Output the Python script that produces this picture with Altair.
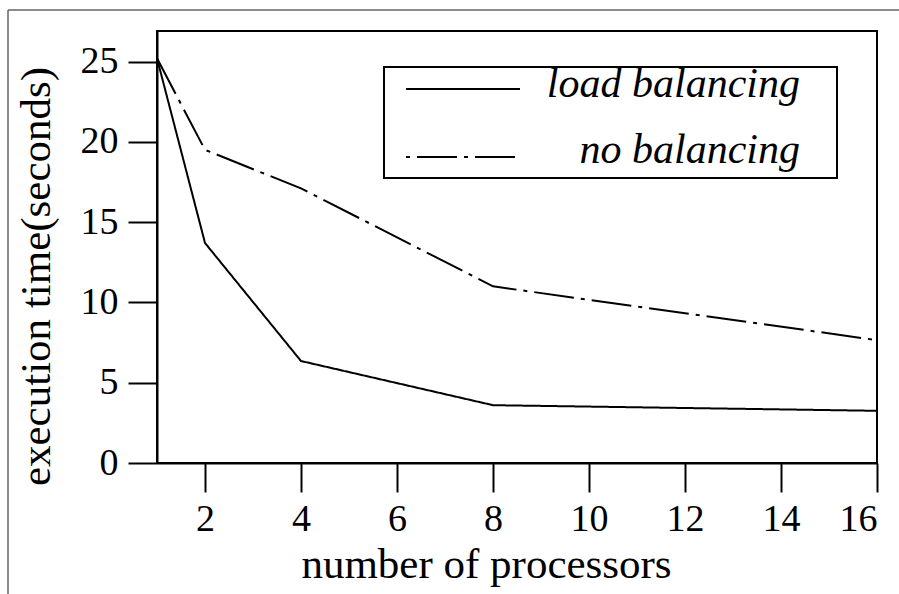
import altair as alt
import pandas as pd

# ---- data ----
processors = [1, 2, 4, 8, 16]
load_balancing = [25.2, 13.7, 6.35, 3.6, 3.25]
no_balancing = [25.2, 19.5, 17.1, 11.0, 7.65]
series_names = ["load balancing", "no balancing"]
x_ticks = [2, 4, 6, 8, 10, 12, 14, 16]
y_ticks = [0, 5, 10, 15, 20, 25]

FONT = "Liberation Serif"

rows = []
for p, v in zip(processors, load_balancing):
    rows.append({"processors": p, "time": v, "series": series_names[0]})
for p, v in zip(processors, no_balancing):
    rows.append({"processors": p, "time": v, "series": series_names[1]})
df = pd.DataFrame(rows)

dash_range = [[1, 0], [40, 7, 4, 7]]

lines = alt.Chart(df).mark_line(color="black", strokeWidth=2).encode(
    x=alt.X("processors:Q",
            scale=alt.Scale(domain=[1, 16], nice=False, zero=False),
            axis=alt.Axis(values=x_ticks, title="number of processors",
                          titleX=329, titleY=114, titleBaseline="alphabetic",
                          titleAlign="center", labelPadding=8)),
    y=alt.Y("time:Q",
            scale=alt.Scale(domain=[0, 26.9], nice=False),
            axis=alt.Axis(values=y_ticks, title="execution time(seconds)",
                          titleX=-121, titleY=245, titleAngle=270,
                          titleAlign="center", titleBaseline="middle",
                          labelPadding=10)),
    strokeDash=alt.StrokeDash("series:N",
                              scale=alt.Scale(domain=series_names, range=dash_range),
                              legend=None),
    order=alt.Order("processors:Q"),
)

# ---- legend (custom box) ----
legend_box = alt.Chart(pd.DataFrame({"s": [0]})).mark_rect(
    fill="white", stroke="black", strokeWidth=2
).encode(x=alt.value(227), x2=alt.value(680), y=alt.value(36), y2=alt.value(147))

legend_layers = [legend_box]
sym_y = [58, 126]
txt_y = [66, 132]
dash_offsets = [0, 47]
for i, name in enumerate(series_names):
    d = pd.DataFrame({"series": [name]})
    legend_layers.append(
        alt.Chart(d).mark_rule(color="black", strokeWidth=2,
                               strokeDash=dash_range[i], strokeDashOffset=dash_offsets[i]).encode(
            x=alt.value(249), x2=alt.value(363), y=alt.value(sym_y[i])
        )
    )
    legend_layers.append(
        alt.Chart(d).mark_text(font=FONT, fontSize=42, fontStyle="italic",
                               align="right", baseline="alphabetic", color="black").encode(
            text="series:N", x=alt.value(643), y=alt.value(txt_y[i])
        )
    )

# ---- outer frame ----
frame_top = alt.Chart(pd.DataFrame({"s": [0]})).mark_rule(color="#666666", strokeWidth=1.5).encode(
    x=alt.value(-149), x2=alt.value(742), y=alt.value(-21)
)
frame_left = alt.Chart(pd.DataFrame({"s": [0]})).mark_rule(color="#666666", strokeWidth=1.5).encode(
    x=alt.value(-149), y=alt.value(-21), y2=alt.value(563)
)

chart = alt.layer(frame_top, frame_left, lines, *legend_layers).properties(
    width=720, height=432,
    padding={"left": 157, "top": 31, "right": 22, "bottom": 131},
    autosize="none",
    background="white",
).configure_view(
    stroke="black", strokeWidth=2
).configure_axis(
    domainColor="black", domainWidth=2, tickColor="black", tickWidth=2, tickSize=29,
    labelFont=FONT, labelFontSize=38, labelColor="black",
    titleFont=FONT, titleFontSize=43, titleFontWeight="normal", titleColor="black",
    grid=False,
)

chart.save("out.html", embed_options={"renderer": "svg", "actions": False})
